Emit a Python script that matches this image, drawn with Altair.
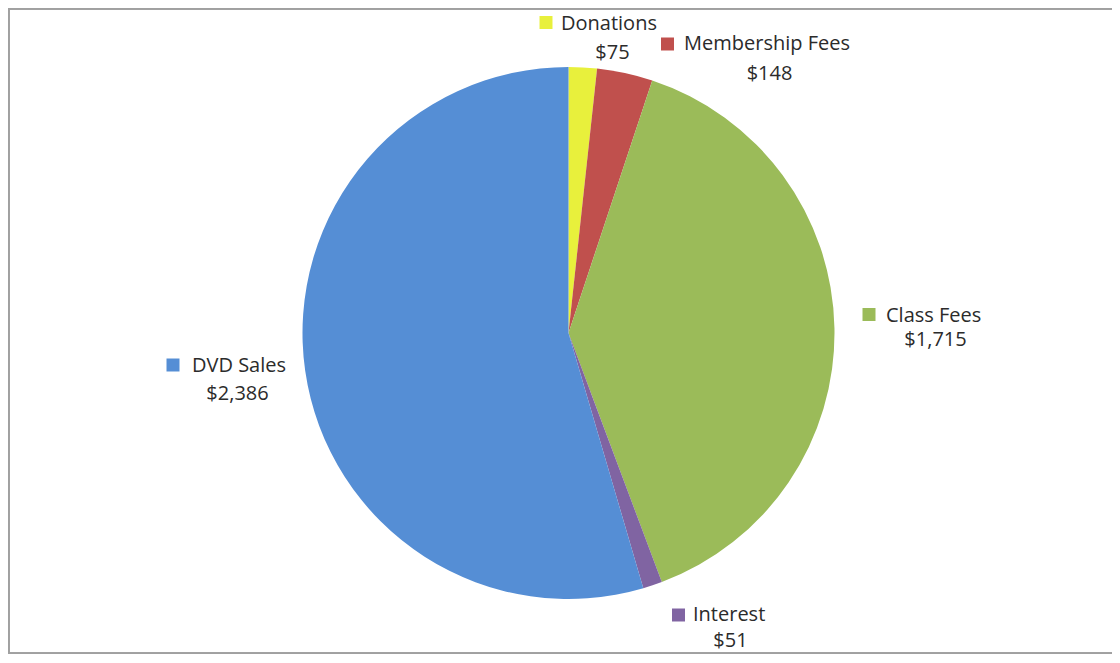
import altair as alt
import pandas as pd

# Data
categories = ["Donations", "Membership Fees", "Class Fees", "Interest", "DVD Sales"]
values = [75, 148, 1715, 51, 2386]
colors = ["#E8F03C", "#C0504D", "#9BBB59", "#8064A2", "#558ED5"]

# Label layout (page pixel positions), kept apart from the data; same order as categories
sq_x = [546, 667.5, 869, 678.5, 173]
sq_y = [22.5, 44, 314.5, 615, 365]
name_x = [561, 684, 886, 693, 192]
name_base = [29.5, 50, 321.5, 620.7, 371.5]
val_x = [612.5, 769.5, 935.5, 730.5, 237.5]
val_base = [58.5, 79.5, 346, 646.5, 400]

M = 8  # page margin
W, H = 1104, 646

df = pd.DataFrame({
    "category": categories,
    "value": values,
    "order": list(range(len(categories))),
    "label": ["$" + format(v, ",") for v in values],
    "sx": [v - M for v in sq_x],
    "sy": [v - M for v in sq_y],
    "nx": [v - M for v in name_x],
    "ny": [v - M for v in name_base],
    "vx": [v - M for v in val_x],
    "vy": [v - M for v in val_base],
})

color = alt.Color("category:N", scale=alt.Scale(domain=categories, range=colors), legend=None)

pie = alt.Chart(df).mark_arc(radius=266).encode(
    theta=alt.Theta("value:Q", stack=True),
    order=alt.Order("order:Q"),
    color=color,
    x=alt.value(568.5 - M),
    y=alt.value(333 - M),
)

squares = alt.Chart(df).mark_square(size=169, opacity=1, filled=True).encode(
    x=alt.X("sx:Q", scale=None, axis=None),
    y=alt.Y("sy:Q", scale=None, axis=None),
    color=color,
)

names = alt.Chart(df).mark_text(
    align="left", baseline="alphabetic", font="Open Sans", fontSize=20, color="#2b2b2b"
).encode(
    x=alt.X("nx:Q", scale=None, axis=None),
    y=alt.Y("ny:Q", scale=None, axis=None),
    text="category:N",
)

vals = alt.Chart(df).mark_text(
    align="center", baseline="alphabetic", font="Open Sans", fontSize=20, color="#2b2b2b"
).encode(
    x=alt.X("vx:Q", scale=None, axis=None),
    y=alt.Y("vy:Q", scale=None, axis=None),
    text="label:N",
)

# frame (left, top, bottom edges; right edge lies outside the picture in the reference)
frame_col = "#a0a0a0"
left = alt.Chart(df).mark_rule(color=frame_col, strokeWidth=1.5).encode(
    x=alt.value(0.75), y=alt.value(0), y2=alt.value(H))
top = alt.Chart(df).mark_rule(color=frame_col, strokeWidth=1.5).encode(
    y=alt.value(0.75), x=alt.value(0), x2=alt.value(W))
bottom = alt.Chart(df).mark_rule(color=frame_col, strokeWidth=1.5).encode(
    y=alt.value(H - 0.75), x=alt.value(0), x2=alt.value(W))

chart = alt.layer(pie, squares, names, vals, left, top, bottom).properties(
    width=W, height=H, padding=0, autosize=alt.AutoSizeParams(type="none"),
    background="white",
).configure_view(stroke=None)

chart.save("out.html", embed_options={"renderer": "svg", "actions": False})
